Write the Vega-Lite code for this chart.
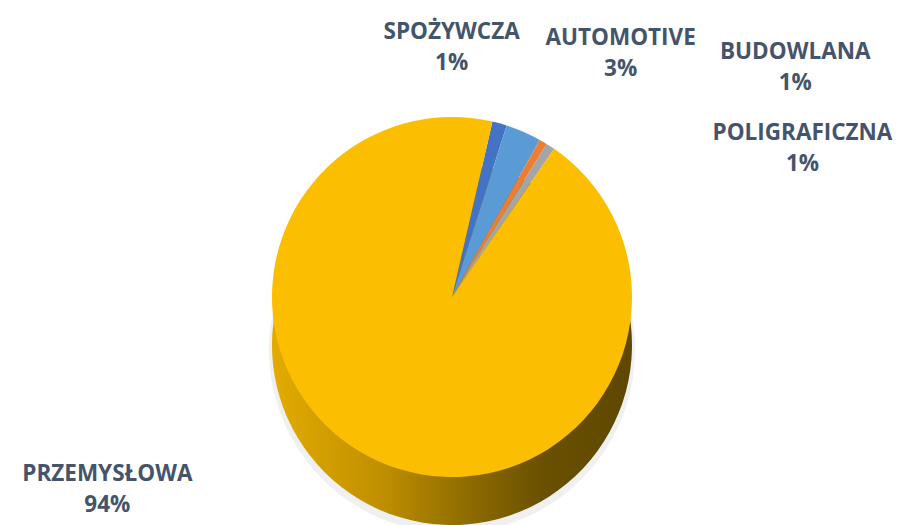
{
  "$schema": "https://vega.github.io/schema/vega-lite/v6.json",
  "width": 904,
  "height": 525,
  "autosize": {"type": "fit", "contains": "padding"},
  "padding": {"top": 55, "bottom": 0, "left": 0, "right": 0},
  "background": "#ffffff",
  "config": {"view": {"stroke": null}},
  "data": {
    "values": [
      {"category": "SPOŻYWCZA", "share": 1.3, "order": 1},
      {"category": "AUTOMOTIVE", "share": 3.2, "order": 2},
      {"category": "BUDOWLANA", "share": 0.7, "order": 3},
      {"category": "POLIGRAFICZNA", "share": 0.8, "order": 4},
      {"category": "PRZEMYSŁOWA", "share": 94.0, "order": 5}
    ]
  },
  "transform": [
    {"stack": "share", "groupby": [], "sort": [{"field": "order", "order": "ascending"}], "as": ["t0", "t1"]},
    {"calculate": "(datum.t0 + datum.t1) / 2", "as": "mid"},
    {"calculate": "[datum.category, format(datum.share, '.0f') + '%']", "as": "label"}
  ],
  "layer": [
    {
      "mark": {"type": "arc", "outerRadius": 183, "yOffset": 53, "fill": "#000000", "opacity": 0.06},
      "encoding": {
        "theta": {"field": "t0", "type": "quantitative", "scale": {"domain": [0, 100], "range": [0.2269, 6.5101]}},
        "theta2": {"field": "t1"}
      }
    },
    {
      "mark": {
        "type": "arc",
        "outerRadius": 180,
        "yOffset": 48,
        "fill": {
          "gradient": "linear",
          "x1": 0, "y1": 0, "x2": 1, "y2": 0,
          "stops": [
            {"offset": 0, "color": "#E3AB00"},
            {"offset": 0.3, "color": "#C09000"},
            {"offset": 0.5, "color": "#977200"},
            {"offset": 0.75, "color": "#6A5000"},
            {"offset": 1, "color": "#5E4700"}
          ]
        }
      },
      "encoding": {
        "theta": {"field": "t0", "type": "quantitative", "scale": {"domain": [0, 100], "range": [0.2269, 6.5101]}},
        "theta2": {"field": "t1"}
      }
    },
    {
      "mark": {"type": "arc", "outerRadius": 180},
      "encoding": {
        "theta": {"field": "t0", "type": "quantitative", "scale": {"domain": [0, 100], "range": [0.2269, 6.5101]}},
        "theta2": {"field": "t1"},
        "color": {
          "field": "category",
          "type": "nominal",
          "scale": {
            "domain": ["SPOŻYWCZA", "AUTOMOTIVE", "BUDOWLANA", "POLIGRAFICZNA", "PRZEMYSŁOWA"],
            "range": ["#4472C4", "#5B9BD5", "#ED7D31", "#A5A5A5", "#FBBE00"]
          },
          "legend": null
        }
      }
    },
    {
      "transform": [{"filter": "datum.category == 'SPOŻYWCZA'"}],
      "mark": {"type": "text", "radius": 180, "dx": -48, "dy": -91, "font": "Open Sans", "fontWeight": "bold", "fontSize": 22.5, "lineHeight": 31, "align": "center", "baseline": "middle", "fill": "#44546A"},
      "encoding": {
        "theta": {"field": "mid", "type": "quantitative", "scale": {"domain": [0, 100], "range": [0.2269, 6.5101]}},
        "text": {"field": "label"}
      }
    },
    {
      "transform": [{"filter": "datum.category == 'AUTOMOTIVE'"}],
      "mark": {"type": "text", "radius": 180, "dx": 97, "dy": -94, "font": "Open Sans", "fontWeight": "bold", "fontSize": 22.5, "lineHeight": 31, "align": "center", "baseline": "middle", "fill": "#44546A"},
      "encoding": {
        "theta": {"field": "mid", "type": "quantitative", "scale": {"domain": [0, 100], "range": [0.2269, 6.5101]}},
        "text": {"field": "label"}
      }
    },
    {
      "transform": [{"filter": "datum.category == 'BUDOWLANA'"}],
      "mark": {"type": "text", "radius": 180, "dx": 252, "dy": -90, "font": "Open Sans", "fontWeight": "bold", "fontSize": 22.5, "lineHeight": 31, "align": "center", "baseline": "middle", "fill": "#44546A"},
      "encoding": {
        "theta": {"field": "mid", "type": "quantitative", "scale": {"domain": [0, 100], "range": [0.2269, 6.5101]}},
        "text": {"field": "label"}
      }
    },
    {
      "transform": [{"filter": "datum.category == 'POLIGRAFICZNA'"}],
      "mark": {"type": "text", "radius": 180, "dx": 252, "dy": -13, "font": "Open Sans", "fontWeight": "bold", "fontSize": 22.5, "lineHeight": 31, "align": "center", "baseline": "middle", "fill": "#44546A"},
      "encoding": {
        "theta": {"field": "mid", "type": "quantitative", "scale": {"domain": [0, 100], "range": [0.2269, 6.5101]}},
        "text": {"field": "label"}
      }
    },
    {
      "transform": [{"filter": "datum.category == 'PRZEMYSŁOWA'"}],
      "mark": {"type": "text", "radius": 180, "dx": -272, "dy": 12, "font": "Open Sans", "fontWeight": "bold", "fontSize": 22.5, "lineHeight": 31, "align": "center", "baseline": "middle", "fill": "#44546A"},
      "encoding": {
        "theta": {"field": "mid", "type": "quantitative", "scale": {"domain": [0, 100], "range": [0.2269, 6.5101]}},
        "text": {"field": "label"}
      }
    }
  ]
}
